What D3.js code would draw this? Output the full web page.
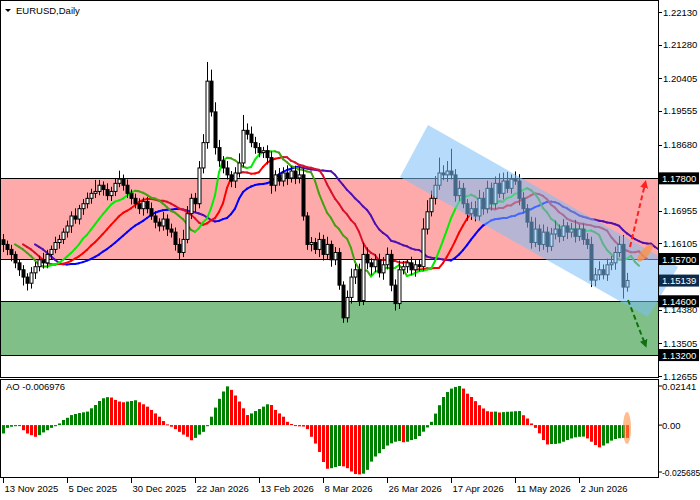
<!DOCTYPE html>
<html>
<head>
<meta charset="utf-8">
<script src="https://cdn.jsdelivr.net/npm/d3@7"></script>
<style>
  body { margin: 0; background: #fff; }
  text { font-family: "Liberation Sans", Arial, sans-serif; font-size: 9.5px; }
</style>
</head>
<body>
<svg id="chart" width="700" height="500"></svg>
<script>
// closing prices, one per daily bar
const closes = [
  1.1608,1.1595,1.1582,1.1560,1.1542,1.1523,1.1507,1.1534,1.1550,1.1568,
  1.1560,1.1582,1.1595,1.1613,1.1621,1.1640,1.1656,1.1682,1.1674,1.1701,
  1.1714,1.1728,1.1741,1.1746,1.1762,1.1751,1.1735,1.1746,1.1767,1.1778,
  1.1762,1.1741,1.1728,1.1714,1.1701,1.1720,1.1701,1.1682,1.1666,1.1656,
  1.1674,1.1648,1.1640,1.1608,1.1587,1.1621,1.1688,1.1728,1.1714,1.1807,
  1.1873,1.2033,1.1953,1.1860,1.1826,1.1807,1.1789,1.1773,1.1794,1.1820,
  1.1905,1.1895,1.1873,1.1860,1.1847,1.1852,1.1834,1.1762,1.1789,1.1773,
  1.1794,1.1781,1.1799,1.1781,1.1789,1.1682,1.1608,1.1613,1.1595,1.1621,
  1.1582,1.1608,1.1568,1.1587,1.1502,1.1417,1.1470,1.1523,1.1542,1.1462,
  1.1582,1.1560,1.1550,1.1568,1.1534,1.1555,1.1582,1.1502,1.1454,1.1542,
  1.1550,1.1560,1.1542,1.1555,1.1550,1.1648,1.1693,1.1728,1.1762,1.1794,
  1.1789,1.1799,1.1789,1.1735,1.1754,1.1714,1.1688,1.1701,1.1682,1.1728,
  1.1701,1.1754,1.1714,1.1767,1.1741,1.1773,1.1754,1.1778,1.1773,1.1728,
  1.1701,1.1666,1.1613,1.1648,1.1608,1.1640,1.1603,1.1635,1.1648,1.1629,
  1.1656,1.1640,1.1648,1.1629,1.1648,1.1621,1.1608,1.1515,1.1529,1.1542,
  1.1529,1.1555,1.1560,1.1587,1.1608,1.1497,1.1514
];
// upper / lower wick lengths in pips
const wickUp = [
  15,10,12,8,10,12,10,15,12,10, 18,12,10,15,12,10,14,12,20,10,
  12,15,12,30,14,10,16,12,14,22, 12,15,10,12,14,10,12,16,12,10,
  18,12,14,12,16,25,20,12,14,18, 22,50,30,25,20,12,18,10,15,25,
  40,18,20,15,12,10,14,16,12,18, 15,20,12,14,20,16,10,14,12,18,
  12,20,10,14,12,10,18,22,15,16, 30,18,12,14,16,20,18,12,15,24,
  15,10,16,12,14,28,30,20,24,40, 20,26,58,15,20,14,12,18,20,22,
  16,20,15,18,26,22,24,12,20,18, 16,12,14,30,12,20,14,16,22,12,
  18,10,16,24,12,14,16,20,18,22, 14,16,18,15,22,24,20
];
const wickDn = [
  20,15,18,14,16,22,19,14,16,12, 15,14,12,10,16,12,14,18,12,14,
  16,12,14,12,10,16,12,14,12,10, 14,12,16,12,14,18,12,10,16,14,
  12,18,14,16,18,12,10,14,22,12, 14,16,12,18,16,14,12,16,18,12,
  10,14,12,16,12,14,18,22,16,12, 14,18,12,16,14,12,14,18,12,20,
  16,12,18,14,12,13,12,16,18,14, 12,16,22,14,12,18,12,16,18,14,
  12,16,14,18,12,10,14,12,16,12, 14,18,12,16,14,12,18,16,14,12,
  16,12,18,14,12,16,12,14,10,18, 12,14,16,12,18,14,16,12,14,16,
  12,18,14,16,12,14,12,18,16,14, 12,16,14,18,12,30,12
];
// Awesome Oscillator, in units of 0.001
const aoValues = [
  -4.6,-1.5,-0.9,-0.6,-0.4,-2.8,-4.6,-5.5,-6.4,-5.5,
  -4.0,-2.8,-1.5,-0.6,0.9,2.8,4.0,5.5,6.1,6.6,
  7.0,7.4,9.2,11.0,13.2,14.7,15.3,15.1,13.8,12.9,
  12.5,12.9,13.2,13.6,12.5,11.4,10.1,8.3,6.4,4.6,
  2.2,0.4,-0.9,-2.2,-3.7,-5.2,-6.4,-8.3,-7.0,-5.2,
  -3.7,-0.6,4.6,9.6,14.4,18.4,21.2,19.3,16.2,12.9,
  9.2,5.5,6.4,7.7,8.8,10.1,11.4,11.0,8.3,6.4,
  4.6,1.8,0.6,-0.4,-0.7,-0.8,-2.2,-6.4,-10.1,-14.7,
  -20.2,-23.9,-23.6,-23.0,-22.4,-22.6,-23.6,-25.4,-26.8,-27.0,
  -26.6,-24.5,-20.0,-17.2,-15.4,-13.1,-11.2,-10.0,-9.1,-8.7,
  -9.4,-9.1,-8.2,-7.6,-6.0,-3.6,-1.3,1.8,6.3,10.9,
  15.4,18.1,20.0,20.9,21.4,20.0,17.2,15.4,13.1,10.9,
  9.1,7.6,7.3,7.4,6.9,7.1,7.3,7.4,7.6,7.7,
  5.4,3.6,0.9,-1.5,-4.5,-8.2,-10.6,-10.4,-10.3,-10.0,
  -9.1,-8.2,-7.3,-6.7,-6.4,-6.3,-7.3,-9.1,-10.9,-12.2,
  -11.2,-10.0,-8.5,-7.6,-7.2,-7.0,-7.0
];
const priceTicks = [1.22130,1.21280,1.20405,1.19555,1.18680,1.16955,1.16105,1.15220,1.14380,1.13505,1.12655];
const levels = [1.17800, 1.15700, 1.14600, 1.13200];
const aoTicks = [21.41, 0, -25.685];
const aoTickLabels = ["0.02141", "0.00", "-0.025685"];
const dateLabels = ["13 Nov 2025","5 Dec 2025","30 Dec 2025","22 Jan 2026","13 Feb 2026","8 Mar 2026","26 Mar 2026","17 Apr 2026","11 May 2026","2 Jun 2026"];
const dateIndex = [0,16,32,48,64,80,96,112,128,144];
const lastPrice = 1.15139;

const svg = d3.select('#chart');
const plotR = 658;
const n = closes.length;
const x = d3.scaleLinear().domain([0, n - 1]).range([3, 3 + 4 * (n - 1)]);
const y = d3.scaleLinear().domain([1.12655, 1.22130]).range([376, 12]);
const ya = d3.scaleLinear().domain([-25.685, 21.41]).range([472, 386]);
const fmt = d3.format('.5f');

const defs = svg.append('defs');
defs.append('clipPath').attr('id', 'mainClip').append('rect')
  .attr('x', 0).attr('y', 0).attr('width', plotR).attr('height', 378);
defs.append('clipPath').attr('id', 'chanClip').append('rect')
  .attr('x', 0).attr('y', 0).attr('width', 690).attr('height', 378);

const main = svg.append('g').attr('clip-path', 'url(#mainClip)');

// zones
main.append('rect').attr('x', 0).attr('width', plotR)
  .attr('y', y(levels[0])).attr('height', y(levels[1]) - y(levels[0])).attr('fill', '#ffaaaa');
main.append('rect').attr('x', 0).attr('width', plotR)
  .attr('y', y(levels[2])).attr('height', y(levels[3]) - y(levels[2])).attr('fill', '#80c088');
levels.forEach(l => {
  main.append('line').attr('x1', 0).attr('x2', plotR)
    .attr('y1', Math.round(y(l)) + 0.5).attr('y2', Math.round(y(l)) + 0.5)
    .attr('stroke', '#000');
});

// descending channel
svg.append('polygon')
  .attr('clip-path', 'url(#chanClip)')
  .attr('points', [[400, 177], [428, 125], [678, 267], [648, 317]].map(p => p.join(',')).join(' '))
  .attr('fill', '#7cbef5').attr('opacity', 0.55);

// alligator lines (smoothed MA, shifted forward)
function smma(arr, p) {
  const out = [];
  arr.forEach((d, i) => {
    if (i === 0) out.push(d);
    else if (i < p) out.push(d3.mean(arr.slice(0, i + 1)));
    else out.push((out[i - 1] * (p - 1) + d) / p);
  });
  return out;
}
const mas = [
  { p: 5, shift: 3, up: '#00ee00', dn: '#44a010' },
  { p: 8, shift: 5, up: '#ff0000', dn: '#d8102a' },
  { p: 13, shift: 8, up: '#0000ff', dn: '#5010b0' }
];
mas.slice().reverse().forEach(m => {
  const v = smma(closes, m.p);
  for (let i = 1; i < n; i++) {
    main.append('line')
      .attr('x1', x(i - 1 + m.shift)).attr('y1', y(v[i - 1]))
      .attr('x2', x(i + m.shift)).attr('y2', y(v[i]))
      .attr('stroke', v[i] >= v[i - 1] ? m.up : m.dn)
      .attr('stroke-width', 2).attr('stroke-linecap', 'round');
  }
});

// candles
const candles = main.selectAll('.candle').data(closes).enter().append('g');
candles.each(function (c, i) {
  const o = i === 0 ? 1.1620 : closes[i - 1];
  const hi = Math.max(o, c) + wickUp[i] / 10000;
  const lo = Math.min(o, c) - wickDn[i] / 10000;
  const g = d3.select(this);
  const cx = Math.round(x(i)) + 0.5;
  g.append('line').attr('x1', cx).attr('x2', cx).attr('y1', y(hi)).attr('y2', y(lo)).attr('stroke', '#000');
  const top = y(Math.max(o, c)), bot = y(Math.min(o, c));
  g.append('rect').attr('x', cx - 1.5).attr('width', 3)
    .attr('y', top).attr('height', Math.max(1, bot - top))
    .attr('fill', c >= o ? '#fff' : '#000').attr('stroke', '#000').attr('stroke-width', 1);
});

// arrows
defs.append('marker').attr('id', 'arrR').attr('viewBox', '0 0 10 10').attr('refX', 5).attr('refY', 5)
  .attr('markerWidth', 4).attr('markerHeight', 4).attr('orient', 'auto')
  .append('path').attr('d', 'M0,0L10,5L0,10z').attr('fill', '#ff2020');
defs.append('marker').attr('id', 'arrG').attr('viewBox', '0 0 10 10').attr('refX', 5).attr('refY', 5)
  .attr('markerWidth', 4).attr('markerHeight', 4).attr('orient', 'auto')
  .append('path').attr('d', 'M0,0L10,5L0,10z').attr('fill', '#107010');
svg.append('line').attr('x1', 630).attr('y1', 247).attr('x2', 645).attr('y2', 184)
  .attr('stroke', '#ff2020').attr('stroke-width', 2).attr('stroke-dasharray', '5,3').attr('marker-end', 'url(#arrR)');
svg.append('line').attr('x1', 628).attr('y1', 300).attr('x2', 645).attr('y2', 344)
  .attr('stroke', '#107010').attr('stroke-width', 2).attr('stroke-dasharray', '5,3').attr('marker-end', 'url(#arrG)');
svg.append('ellipse').attr('cx', 645).attr('cy', 253).attr('rx', 11).attr('ry', 4)
  .attr('transform', 'rotate(-50 645 253)').attr('fill', '#ff9040').attr('opacity', 0.75);

// frames
svg.append('rect').attr('x', 0.5).attr('y', 0.5).attr('width', plotR).attr('height', 377).attr('fill', 'none').attr('stroke', '#000');
svg.append('rect').attr('x', 0.5).attr('y', 379.5).attr('width', plotR).attr('height', 98).attr('fill', 'none').attr('stroke', '#000');

// price axis
priceTicks.forEach(p => {
  svg.append('line').attr('x1', plotR).attr('x2', plotR + 4).attr('y1', Math.round(y(p)) + 0.5).attr('y2', Math.round(y(p)) + 0.5).attr('stroke', '#000');
  svg.append('text').attr('x', plotR + 5).attr('y', y(p) + 3.5).text(fmt(p));
});
levels.forEach(l => {
  svg.append('rect').attr('x', plotR + 1).attr('y', y(l) - 6).attr('width', 40).attr('height', 12).attr('fill', '#000');
  svg.append('text').attr('x', plotR + 4).attr('y', y(l) + 3.5).attr('fill', '#fff').text(fmt(l));
});
svg.append('rect').attr('x', plotR + 1).attr('y', y(lastPrice) - 6).attr('width', 40).attr('height', 12).attr('fill', '#0c2a4a');
svg.append('text').attr('x', plotR + 4).attr('y', y(lastPrice) + 3.5).attr('fill', '#fff').text(fmt(lastPrice));

// AO histogram
const ao = svg.append('g');
aoValues.forEach((v, i) => {
  const prev = i === 0 ? v - 1 : aoValues[i - 1];
  ao.append('rect').attr('x', x(i) - 1).attr('width', 3)
    .attr('y', Math.min(ya(v), ya(0))).attr('height', Math.max(1, Math.abs(ya(v) - ya(0))))
    .attr('fill', v > prev ? '#008000' : '#ff0000');
});
svg.append('ellipse').attr('cx', x(aoValues.length - 1)).attr('cy', 428).attr('rx', 4).attr('ry', 16)
  .attr('fill', '#ff9040').attr('opacity', 0.6);
aoTicks.forEach((t, k) => {
  svg.append('line').attr('x1', plotR).attr('x2', plotR + 4).attr('y1', ya(t)).attr('y2', ya(t)).attr('stroke', '#000');
  svg.append('text').attr('x', plotR + 4).attr('y', ya(t) + 3.5)
    .style('font-size', aoTickLabels[k].length > 7 ? '8.5px' : null).text(aoTickLabels[k]);
});

// date axis
dateIndex.forEach((di, k) => {
  const dx = Math.round(x(di)) + 0.5;
  svg.append('line').attr('x1', dx).attr('x2', dx).attr('y1', 478).attr('y2', 483).attr('stroke', '#000');
  svg.append('text').attr('x', dx + 1).attr('y', 492).text(dateLabels[k]);
});

// titles
svg.append('path').attr('d', 'M5,9L11,9L8,12z').attr('fill', '#000');
svg.append('text').attr('x', 16).attr('y', 14).text('EURUSD,Daily');
svg.append('text').attr('x', 6).attr('y', 390).text('AO -0.006976');
</script>
</body>
</html>
